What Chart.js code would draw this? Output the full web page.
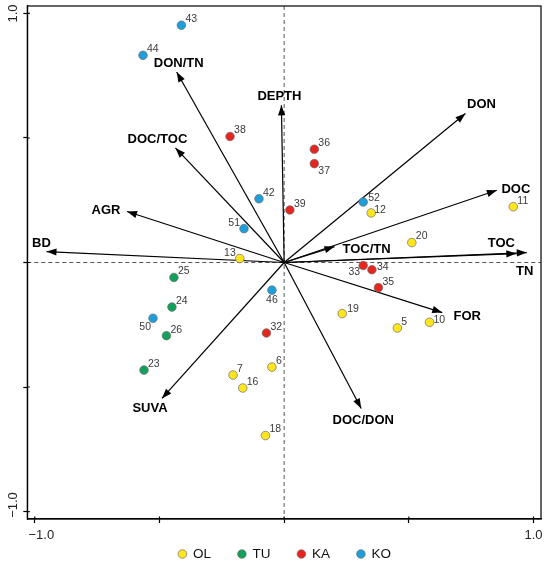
<!DOCTYPE html>
<html>
<head>
<meta charset="utf-8">
<script src="https://cdn.jsdelivr.net/npm/chart.js@4/dist/chart.umd.min.js"></script>
<style>
  html, body { margin: 0; padding: 0; background: #fff; }
  #wrap { width: 550px; height: 566px; }
</style>
</head>
<body>
<div id="wrap"><canvas id="pca"></canvas></div>
<script>
// site scores on PC1 / PC2, one set of arrays per land use group
const olSites = ['5', '6', '7', '10', '11', '12', '13', '16', '18', '19', '20'];
const olX = [0.454, -0.049, -0.205, 0.583, 0.919, 0.349, -0.178, -0.166, -0.075, 0.233, 0.512];
const olY = [-0.263, -0.420, -0.452, -0.240, 0.224, 0.199, 0.016, -0.504, -0.695, -0.205, 0.080];

const tuSites = ['23', '24', '25', '26'];
const tuX = [-0.562, -0.450, -0.442, -0.472];
const tuY = [-0.432, -0.179, -0.060, -0.294];

const kaSites = ['32', '33', '34', '35', '36', '37', '38', '39'];
const kaX = [-0.071, 0.317, 0.352, 0.378, 0.121, 0.121, -0.217, 0.023];
const kaY = [-0.283, -0.012, -0.029, -0.101, 0.455, 0.397, 0.506, 0.211];

const koSites = ['42', '43', '44', '46', '50', '51', '52'];
const koX = [-0.101, -0.412, -0.566, -0.049, -0.526, -0.161, 0.317];
const koY = [0.256, 0.953, 0.832, -0.111, -0.224, 0.136, 0.243];

// variable loadings (arrow tips)
const varNames = ['DON/TN', 'DOC/TOC', 'AGR', 'BD', 'DEPTH', 'DON', 'DOC', 'TOC', 'TN', 'TOC/TN', 'FOR', 'DOC/DON', 'SUVA'];
const varX = [-0.431, -0.436, -0.630, -0.953, -0.011, 0.727, 0.853, 0.931, 0.973, 0.202, 0.634, 0.309, -0.490];
const varY = [0.765, 0.460, 0.205, 0.044, 0.631, 0.598, 0.290, 0.036, 0.040, 0.064, -0.201, -0.586, -0.546];

const tickValues = [-1, -0.5, 0, 0.5, 1];
// leading em space pushes the minus out, like the original
const tickText = { '-1': '\u2003\u22121.0', '1': '1.0' };

const groups = [
  { name: 'OL', ids: olSites, xs: olX, ys: olY, color: '#ffe51c' },
  { name: 'TU', ids: tuSites, xs: tuX, ys: tuY, color: '#11a15a' },
  { name: 'KA', ids: kaSites, xs: kaX, ys: kaY, color: '#e4261e' },
  { name: 'KO', ids: koSites, xs: koX, ys: koY, color: '#1e9fdb' }
];

// where the arrow names sit relative to the tip (px)
const varLabelShift = {
  'DON/TN': [2, -9], 'DOC/TOC': [-18, -9], 'AGR': [-21, -1], 'BD': [-5, -8],
  'DEPTH': [-2, -9], 'DON': [16, -9], 'DOC': [19, -1], 'TOC': [-15, -10],
  'TN': [-2, 19], 'TOC/TN': [32, 3], 'FOR': [25, 4], 'DOC/DON': [2, 12], 'SUVA': [-12, 10]
};
// site numbers go up-right of the dot unless listed here
const siteLabelShift = {
  '51': [-4, -6, 'right'], '13': [-4, -5, 'right'], '37': [4, 7, 'left'],
  '33': [-3, 7, 'right'], '46': [0, 10, 'center'], '50': [-2, 9, 'right'],
  '10': [4, -2, 'left'], '12': [3, -3, 'left'], '34': [5, -3, 'left'],
  '52': [5, -4, 'left'], '19': [5, -4, 'left']
};

const FONT = '"Liberation Sans", Arial, Helvetica, sans-serif';

const datasets = [];
groups.forEach(g => {
  datasets.push({
    type: 'scatter',
    label: g.name,
    isGroup: true,
    ids: g.ids,
    data: g.xs.map((x, i) => ({ x: x, y: g.ys[i] })),
    backgroundColor: g.color,
    borderColor: '#6b6b6b',
    borderWidth: 0.7,
    pointRadius: 4.3
  });
});
varNames.forEach((name, i) => {
  datasets.push({
    type: 'line',
    label: name,
    isArrow: true,
    data: [{ x: 0, y: 0 }, { x: varX[i], y: varY[i] }],
    borderColor: '#000',
    borderWidth: 1.2,
    pointRadius: 0,
    fill: false
  });
});

const biplotPlugin = {
  id: 'biplot',
  beforeDatasetsDraw(chart) {
    const { ctx, chartArea: a, scales } = chart;
    const x0 = scales.x.getPixelForValue(0);
    const y0 = scales.y.getPixelForValue(0);
    ctx.save();
    ctx.strokeStyle = '#555';
    ctx.lineWidth = 1;
    ctx.setLineDash([4, 3]);
    ctx.beginPath();
    ctx.moveTo(x0, a.top); ctx.lineTo(x0, a.bottom);
    ctx.moveTo(a.left, y0); ctx.lineTo(a.right, y0);
    ctx.stroke();
    ctx.restore();
  },
  afterDatasetsDraw(chart) {
    const { ctx } = chart;
    ctx.save();
    chart.data.datasets.forEach((ds, di) => {
      const meta = chart.getDatasetMeta(di);
      if (ds.isArrow) {
        const p0 = meta.data[0], p1 = meta.data[1];
        const ang = Math.atan2(p1.y - p0.y, p1.x - p0.x);
        const len = 10, half = 3.6;
        ctx.fillStyle = '#000';
        ctx.beginPath();
        ctx.moveTo(p1.x, p1.y);
        ctx.lineTo(p1.x - len * Math.cos(ang) + half * Math.sin(ang), p1.y - len * Math.sin(ang) - half * Math.cos(ang));
        ctx.lineTo(p1.x - len * Math.cos(ang) - half * Math.sin(ang), p1.y - len * Math.sin(ang) + half * Math.cos(ang));
        ctx.closePath();
        ctx.fill();
        const s = varLabelShift[ds.label] || [0, -10];
        ctx.font = 'bold 13px ' + FONT;
        ctx.textAlign = 'center';
        ctx.textBaseline = 'middle';
        ctx.fillText(ds.label, p1.x + s[0], p1.y + s[1]);
      } else if (ds.isGroup) {
        ctx.font = '10.5px ' + FONT;
        ctx.fillStyle = '#3a3a3a';
        ctx.textBaseline = 'middle';
        meta.data.forEach((pt, i) => {
          const id = ds.ids[i];
          const s = siteLabelShift[id] || [4, -6, 'left'];
          ctx.textAlign = s[2];
          ctx.fillText(id, pt.x + s[0], pt.y + s[1]);
        });
      }
    });
    ctx.restore();
  },
  afterDraw(chart) {
    const { ctx, chartArea: a, scales } = chart;
    ctx.save();
    ctx.strokeStyle = '#000';
    ctx.lineWidth = 1.2;
    ctx.strokeRect(a.left, a.top, a.right - a.left, a.bottom - a.top);
    // short inner half of the tick marks, so they cross the axis
    ctx.beginPath();
    tickValues.forEach(v => {
      const px = scales.x.getPixelForValue(v);
      const py = scales.y.getPixelForValue(v);
      ctx.moveTo(px, a.bottom); ctx.lineTo(px, a.bottom - 2.5);
      ctx.moveTo(a.left, py); ctx.lineTo(a.left + 2.5, py);
    });
    ctx.stroke();
    // legend row under the x axis
    const items = chart.data.datasets.filter(d => d.isGroup);
    const pitch = 59.5;
    const cx = (a.left + a.right) / 2;
    let x = cx - 12.5 - pitch * (items.length - 1) / 2;
    const y = 554;
    ctx.font = '13.5px ' + FONT;
    ctx.textAlign = 'left';
    ctx.textBaseline = 'middle';
    items.forEach(d => {
      ctx.beginPath();
      ctx.arc(x, y, 4.3, 0, Math.PI * 2);
      ctx.fillStyle = d.backgroundColor;
      ctx.fill();
      ctx.lineWidth = 0.7;
      ctx.strokeStyle = '#6b6b6b';
      ctx.stroke();
      ctx.fillStyle = '#111';
      ctx.fillText(d.label, x + 10.5, y + 0.5);
      x += pitch;
    });
    ctx.restore();
  }
};

new Chart(document.getElementById('pca'), {
  data: { datasets: datasets },
  options: {
    responsive: true,
    maintainAspectRatio: false,
    animation: false,
    layout: { padding: { top: 6, right: 9, bottom: 23, left: 0 } },
    plugins: { legend: { display: false }, tooltip: { enabled: false } },
    scales: {
      x: {
        type: 'linear',
        min: -1.03,
        max: 1.03,
        afterBuildTicks: s => { s.ticks = tickValues.map(v => ({ value: v })); },
        afterFit: s => { s.height = 24; },
        grid: { drawOnChartArea: false, tickLength: 4, color: '#000', tickWidth: 1.2 },
        border: { color: '#000', width: 1.2 },
        ticks: {
          autoSkip: false,
          maxRotation: 0,
          padding: 5,
          color: '#222',
          font: { family: FONT, size: 13 },
          callback: v => tickText[String(v)] || ''
        }
      },
      y: {
        type: 'linear',
        min: -1.03,
        max: 1.03,
        afterBuildTicks: s => { s.ticks = tickValues.map(v => ({ value: v })); },
        afterFit: s => { s.width = 27.3; },
        grid: { drawOnChartArea: false, tickLength: 4, color: '#000', tickWidth: 1.2 },
        border: { color: '#000', width: 1.2 },
        ticks: {
          autoSkip: false,
          minRotation: 90,
          maxRotation: 90,
          crossAlign: 'center',
          padding: -9,
          color: '#222',
          font: { family: FONT, size: 13 },
          callback: v => tickText[String(v)] || ''
        }
      }
    }
  },
  plugins: [biplotPlugin]
});
</script>
</body>
</html>
